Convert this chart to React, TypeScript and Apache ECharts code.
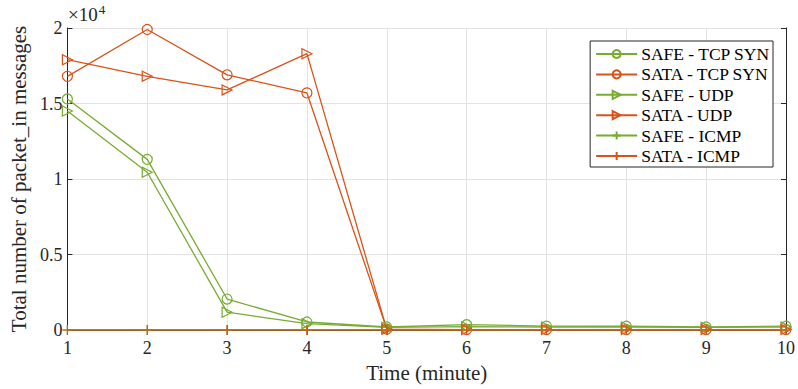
import React, { useEffect, useRef } from "react";
import * as echarts from "echarts";

const minutes = [1, 2, 3, 4, 5, 6, 7, 8, 9, 10];
const safeTcpSyn = [15300, 11300, 2050, 530, 200, 350, 260, 250, 200, 250];
const sataTcpSyn = [16800, 19900, 16900, 15700, 60, 30, 30, 30, 30, 30];
const safeUdp = [14500, 10450, 1180, 420, 180, 220, 200, 200, 180, 200];
const sataUdp = [17900, 16800, 15900, 18300, 40, 30, 30, 30, 30, 30];
const safeIcmp = [0, 0, 0, 0, 0, 0, 0, 0, 0, 0];
const sataIcmp = [0, 0, 0, 0, 0, 0, 0, 0, 0, 0];
const yTickLabels: Record<number, string> = { 0: "0", 5000: "0.5", 10000: "1", 15000: "1.5", 20000: "2" };

const GREEN = "#77AC30";
const ORANGE = "#D95319";
const TXT = "#262626";
const FONT = "'Liberation Serif', 'Times New Roman', Times, serif";
const PLUS = "path://M5,0 L5,10 M0,5 L10,5";
const CLEAR = "rgba(0,0,0,0)";

function pairs(vals: number[]) {
  return vals.map((v, i) => [minutes[i], v]);
}

function mkSeries(name: string, vals: number[], color: string, kind: string) {
  const base: any = {
    name,
    type: "line",
    data: pairs(vals),
    lineStyle: { color, width: 1.3 },
    itemStyle: { color: CLEAR, borderColor: color, borderWidth: 1.2 },
    showSymbol: true,
    emphasis: { disabled: true },
  };
  if (kind === "circle") {
    base.symbol = "circle";
    base.symbolSize = 10;
  } else if (kind === "tri") {
    base.symbol = "triangle";
    base.symbolSize = 10;
    base.symbolRotate = -90;
  } else {
    base.symbol = PLUS;
    base.symbolSize = 10;
  }
  return base;
}

export default function App() {
  const ref = useRef<HTMLDivElement>(null);
  useEffect(() => {
    if (!ref.current) return;
    const chart = echarts.init(ref.current, undefined, { renderer: "svg" });
    const axisColor = "#262626";
    chart.setOption({
      animation: false,
      backgroundColor: "#ffffff",
      textStyle: { fontFamily: FONT },
      grid: { left: 67, right: 9, top: 28, bottom: 59 },
      legend: {
        orient: "vertical",
        right: 25,
        top: 41,
        itemWidth: 41,
        itemHeight: 10,
        itemGap: 0.4,
        backgroundColor: "#ffffff",
        borderColor: "#262626",
        borderWidth: 1,
        borderRadius: 0,
        padding: [3, 3, 1, 5],
        textStyle: { fontFamily: FONT, fontSize: 17.5, lineHeight: 20, color: "#000", padding: [0, 0, 0, -1] },
        data: ["SAFE - TCP SYN", "SATA - TCP SYN", "SAFE - UDP", "SATA - UDP", "SAFE - ICMP", "SATA - ICMP"],
      },
      xAxis: [
        {
          type: "value",
          min: 1,
          max: 10,
          interval: 1,
          name: "Time (minute)",
          nameLocation: "middle",
          nameGap: 32,
          nameTextStyle: { fontFamily: FONT, fontSize: 21, color: TXT },
          axisLine: { lineStyle: { color: axisColor, width: 1 } },
          axisTick: { inside: true, length: 5, lineStyle: { color: axisColor } },
          axisLabel: { fontFamily: FONT, fontSize: 18, color: TXT, margin: 9 },
          splitLine: { show: true, lineStyle: { color: "#e3e3e3", width: 1 } },
        },
        {
          type: "value",
          position: "top",
          min: 1,
          max: 10,
          interval: 1,
          axisLine: { lineStyle: { color: axisColor, width: 1 } },
          axisTick: { inside: true, length: 5, lineStyle: { color: axisColor } },
          axisLabel: { show: false },
          splitLine: { show: false },
        },
      ],
      yAxis: [
        {
          type: "value",
          min: 0,
          max: 20000,
          interval: 5000,
          name: "Total number of packet_in messages",
          nameLocation: "middle",
          nameGap: 35,
          nameTextStyle: { fontFamily: FONT, fontSize: 21, color: TXT },
          axisLine: { show: true, lineStyle: { color: axisColor, width: 1 } },
          axisTick: { show: true, inside: true, length: 5, lineStyle: { color: axisColor } },
          axisLabel: {
            fontFamily: FONT,
            fontSize: 18,
            color: TXT,
            margin: 5,
            formatter: (v: number) => yTickLabels[v] ?? "",
          },
          splitLine: { show: true, lineStyle: { color: "#e3e3e3", width: 1 } },
        },
        {
          type: "value",
          position: "right",
          min: 0,
          max: 20000,
          interval: 5000,
          axisLine: { show: true, lineStyle: { color: axisColor, width: 1 } },
          axisTick: { show: true, inside: true, length: 5, lineStyle: { color: axisColor } },
          axisLabel: { show: false },
          splitLine: { show: false },
        },
      ],
      graphic: [
        {
          type: "text",
          left: 68,
          top: 3,
          style: {
            text: "×10{s|4}",
            fontFamily: FONT,
            fontSize: 19,
            fill: TXT,
            rich: { s: { fontFamily: FONT, fontSize: 13, verticalAlign: "top", padding: [0, 0, 10, 1] } },
          },
        },
      ],
      series: [
        mkSeries("SAFE - TCP SYN", safeTcpSyn, GREEN, "circle"),
        mkSeries("SATA - TCP SYN", sataTcpSyn, ORANGE, "circle"),
        mkSeries("SAFE - UDP", safeUdp, GREEN, "tri"),
        mkSeries("SATA - UDP", sataUdp, ORANGE, "tri"),
        mkSeries("SAFE - ICMP", safeIcmp, GREEN, "plus"),
        mkSeries("SATA - ICMP", sataIcmp, ORANGE, "plus"),
      ],
    });
    return () => chart.dispose();
  }, []);
  return <div ref={ref} style={{ width: 798, height: 389, position: "absolute", left: 0, top: 0 }} />;
}
